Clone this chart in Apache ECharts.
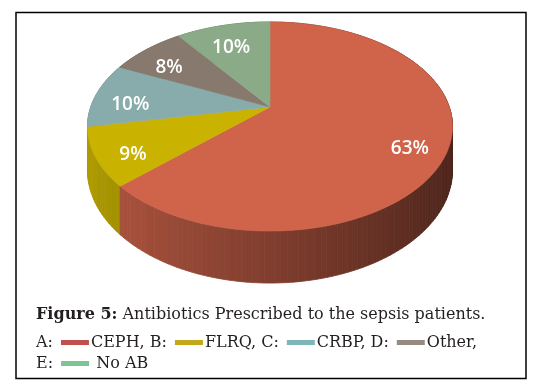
<!DOCTYPE html>
<html>
<head>
<meta charset="utf-8">
<script src="https://cdn.jsdelivr.net/npm/echarts@6/dist/echarts.min.js"></script>
<style>
html,body{margin:0;padding:0;background:#fff;}
#chart{width:545px;height:385px;}
</style>
</head>
<body>
<div id="chart"></div>
<script>
const categories = ['CEPH', 'FLRQ', 'CRBP', 'Other', 'No AB'];
const letters = ['A', 'B', 'C', 'D', 'E'];
const values = [63, 9, 10, 8, 10];
const topColors = ['#CF644B', '#C9B200', '#88ABAB', '#87796D', '#8BAA88'];
const swatchColors = ['#C0504D', '#C4A81B', '#7FB6B9', '#978A80', '#7CC592'];
const captionTitle = 'Figure 5:';
const captionText = 'Antibiotics Prescribed to the sepsis patients.';

// projection of the tilted disc
const geo = { cx: 270, cy: 107, R: 179.3, Ry: 100.9, k: 0.1866, H: 42.3 };
function proj(u, v, dz) {
  const d = 1 - geo.k * v;
  return [geo.cx + geo.R * u / d, geo.cy + (geo.Ry * v + geo.H * dz) / d];
}
function shade(hex, f) {
  const n = parseInt(hex.slice(1), 16);
  const r = Math.round(((n >> 16) & 255) * f), g = Math.round(((n >> 8) & 255) * f), b = Math.round((n & 255) * f);
  return 'rgb(' + r + ',' + g + ',' + b + ')';
}
const total = values.reduce((a, b) => a + b, 0);

function renderItem(params, api) {
  const idx = params.dataIndex;
  let before = 0;
  for (let i = 0; i < idx; i++) before += values[i];
  const a0 = before / total * 360;
  const a1 = (before + api.value(0)) / total * 360;
  const step = 1.5;
  const angs = [];
  for (let a = a0; a < a1; a += step) angs.push(a);
  angs.push(a1);
  const rad = Math.PI / 180;
  const children = [];
  const topPts = [proj(0, 0, 0)];
  for (const a of angs) topPts.push(proj(Math.sin(a * rad), -Math.cos(a * rad), 0));
  // side strips
  for (let i = 0; i < angs.length - 1; i++) {
    const t0 = angs[i] * rad, t1 = angs[i + 1] * rad;
    const u0 = Math.sin(t0), v0 = -Math.cos(t0), u1 = Math.sin(t1), v1 = -Math.cos(t1);
    const mid = (t0 + t1) / 2;
    const f = Math.max(0.3, Math.min(0.95, 0.62 - 0.26 * Math.sin(mid)));
    const col = shade(topColors[idx], f);
    children.push({
      type: 'polygon',
      z2: 1 + Math.round((-Math.cos(mid) + 1) * 20),
      shape: { points: [proj(u0, v0, 0), proj(u1, v1, 0), proj(u1, v1, 1), proj(u0, v0, 1)] },
      style: { fill: col, stroke: col, lineWidth: 0.8 }
    });
  }
  children.push({
    type: 'polygon',
    z2: 100,
    shape: { points: topPts },
    style: { fill: topColors[idx], stroke: topColors[idx], lineWidth: 0.6 }
  });
  const am = (a0 + a1) / 2 * rad;
  const lr = 0.8;
  const lp = proj(lr * Math.sin(am), -lr * Math.cos(am), 0);
  children.push({
    type: 'text',
    z2: 200,
    style: {
      text: Math.round(api.value(0) / total * 100) + '%',
      x: lp[0], y: lp[1] + 8,
      align: 'center', verticalAlign: 'middle',
      fill: '#ffffff',
      fontFamily: '"Open Sans", sans-serif',
      fontWeight: 600,
      fontSize: 19
    }
  });
  return { type: 'group', children: children };
}

const rich = { g: { width: 8 }, h: { width: 2 } };
swatchColors.forEach((c, i) => {
  rich['s' + i] = { width: 28, height: 5, backgroundColor: c, verticalAlign: 'middle' };
});
const items = categories.map((c, i) => letters[i] + ':{g|}{s' + i + '|}{h|}' + (i === 4 ? ' ' : '') + c);
const legendText = items.slice(0, 4).join(', ') + ',\n' + items[4];

const serif = '"DejaVu Serif", serif';
const chart = echarts.init(document.getElementById('chart'), null, { renderer: 'canvas' });
chart.setOption({
  animation: false,
  backgroundColor: '#ffffff',
  title: [
    {
      left: 36, top: 305, padding: 0,
      text: '{b|' + captionTitle + '} ' + captionText,
      textStyle: {
        fontFamily: serif, fontSize: 16, fontWeight: 'normal', color: '#231F20', lineHeight: 20,
        rich: { b: { fontFamily: serif, fontSize: 16, fontWeight: 'bold', color: '#231F20', lineHeight: 20 } }
      }
    },
    {
      left: 36, top: 332, padding: 0,
      text: legendText,
      textStyle: { fontFamily: serif, fontSize: 16, fontWeight: 'normal', color: '#231F20', lineHeight: 21, rich: rich }
    }
  ],
  graphic: [
    { type: 'rect', shape: { x: 16, y: 12.5, width: 510, height: 366 }, style: { fill: 'none', stroke: '#000', lineWidth: 1.5 }, z: 0 }
  ],
  series: [{
    type: 'custom',
    coordinateSystem: 'none',
    renderItem: renderItem,
    data: values.map(v => [v]),
    silent: true
  }]
});
</script>
</body>
</html>
